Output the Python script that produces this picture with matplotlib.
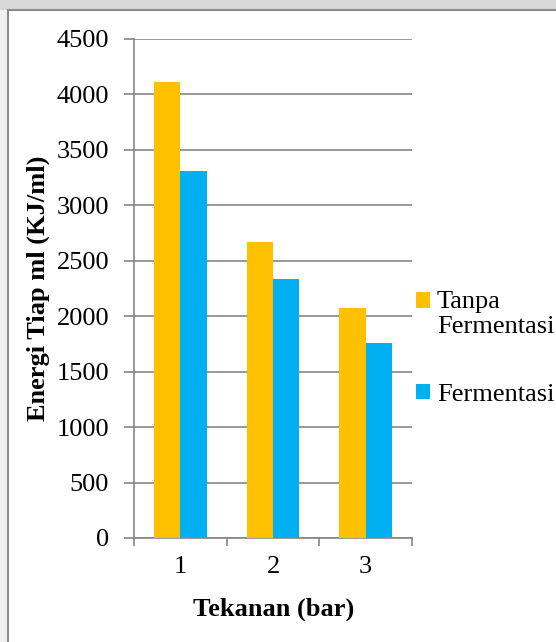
import matplotlib
matplotlib.use('Agg')
import matplotlib.pyplot as plt
import numpy as np
from matplotlib.patches import Rectangle

# Data
pressure = ['1', '2', '3']
tanpa_fermentasi = [4115, 2670, 2072]
fermentasi = [3310, 2332, 1763]
series_labels = ['Tanpa\nFermentasi', 'Fermentasi']
y_ticks = [0, 500, 1000, 1500, 2000, 2500, 3000, 3500, 4000, 4500]

gold = '#FFC000'
blue = '#00B0F0'
grid_gray = '#868686'

plt.rcParams['font.family'] = ['Liberation Serif', 'DejaVu Serif']
fs = 19

W, H = 556, 642
fig = plt.figure(figsize=(W / 100, H / 100), dpi=100)

# watermark-ish gray background strip and the white chart frame
fig.patches.append(Rectangle((0, 0), 1, 1, transform=fig.transFigure,
                             facecolor='#f0f0f0', edgecolor='none', zorder=-3))
fig.patches.append(Rectangle((0, 1 - 10 / H), 1, 10 / H, transform=fig.transFigure,
                             facecolor='#d9d9d9', edgecolor='none', zorder=-2))
fig.patches.append(Rectangle((8 / W, -0.01), 1, 1 - 10 / H + 0.01, transform=fig.transFigure,
                             facecolor='white', edgecolor='#8c8c8c', linewidth=1.5, zorder=-1))

ax = fig.add_axes([134 / W, 1 - 538 / H, (412 - 134) / W, (538 - 39) / H])

x = np.arange(len(pressure))
w = 0.285
ax.bar(x - w / 2, tanpa_fermentasi, w, color=gold, label=series_labels[0], zorder=3)
ax.bar(x + w / 2, fermentasi, w, color=blue, label=series_labels[1], zorder=3)

ax.set_xlim(-0.5, 2.5)
ax.set_ylim(0, 4500)
ax.set_yticks(y_ticks)
ax.set_xticks(x)
ax.set_xticklabels(pressure)
ax.set_xticks([-0.5, 0.5, 1.5, 2.5], minor=True)

ax.yaxis.grid(True, color=grid_gray, linewidth=1.2, zorder=0)
ax.set_axisbelow(True)
for s in ['top', 'right']:
    ax.spines[s].set_visible(False)
for s in ['left', 'bottom']:
    ax.spines[s].set_color(grid_gray)
    ax.spines[s].set_linewidth(1.2)

ax.tick_params(axis='y', length=7, width=1.2, color=grid_gray, labelsize=fs, pad=11)
ax.tick_params(axis='x', which='major', length=0, labelsize=fs, pad=13)
ax.tick_params(axis='x', which='minor', length=6, width=1.2, color=grid_gray)

ax.set_ylabel('Energi Tiap ml (KJ/ml)', fontsize=fs, fontweight='bold')
ax.yaxis.set_label_coords(38 / W, 1 - 288 / H, transform=fig.transFigure)
ax.yaxis.label.set_va('center')
ax.set_xlabel('Tekanan (bar)', fontsize=fs, fontweight='bold')
ax.xaxis.set_label_coords(274 / W, 1 - 609 / H, transform=fig.transFigure)
ax.xaxis.label.set_va('center')

leg = ax.legend(loc='upper left', bbox_to_anchor=(416 / W, 1 - 291 / H),
                bbox_transform=fig.transFigure, frameon=False, fontsize=fs,
                handlelength=0.52, handleheight=0.52, handletextpad=0.27,
                labelspacing=1.72, borderpad=0, borderaxespad=0)
# square of the two-line entry sits beside the first line
h0 = leg.legend_handles[0]
h0.set_y(h0.get_y() + 10)

fig.savefig('out.png', dpi=100)
